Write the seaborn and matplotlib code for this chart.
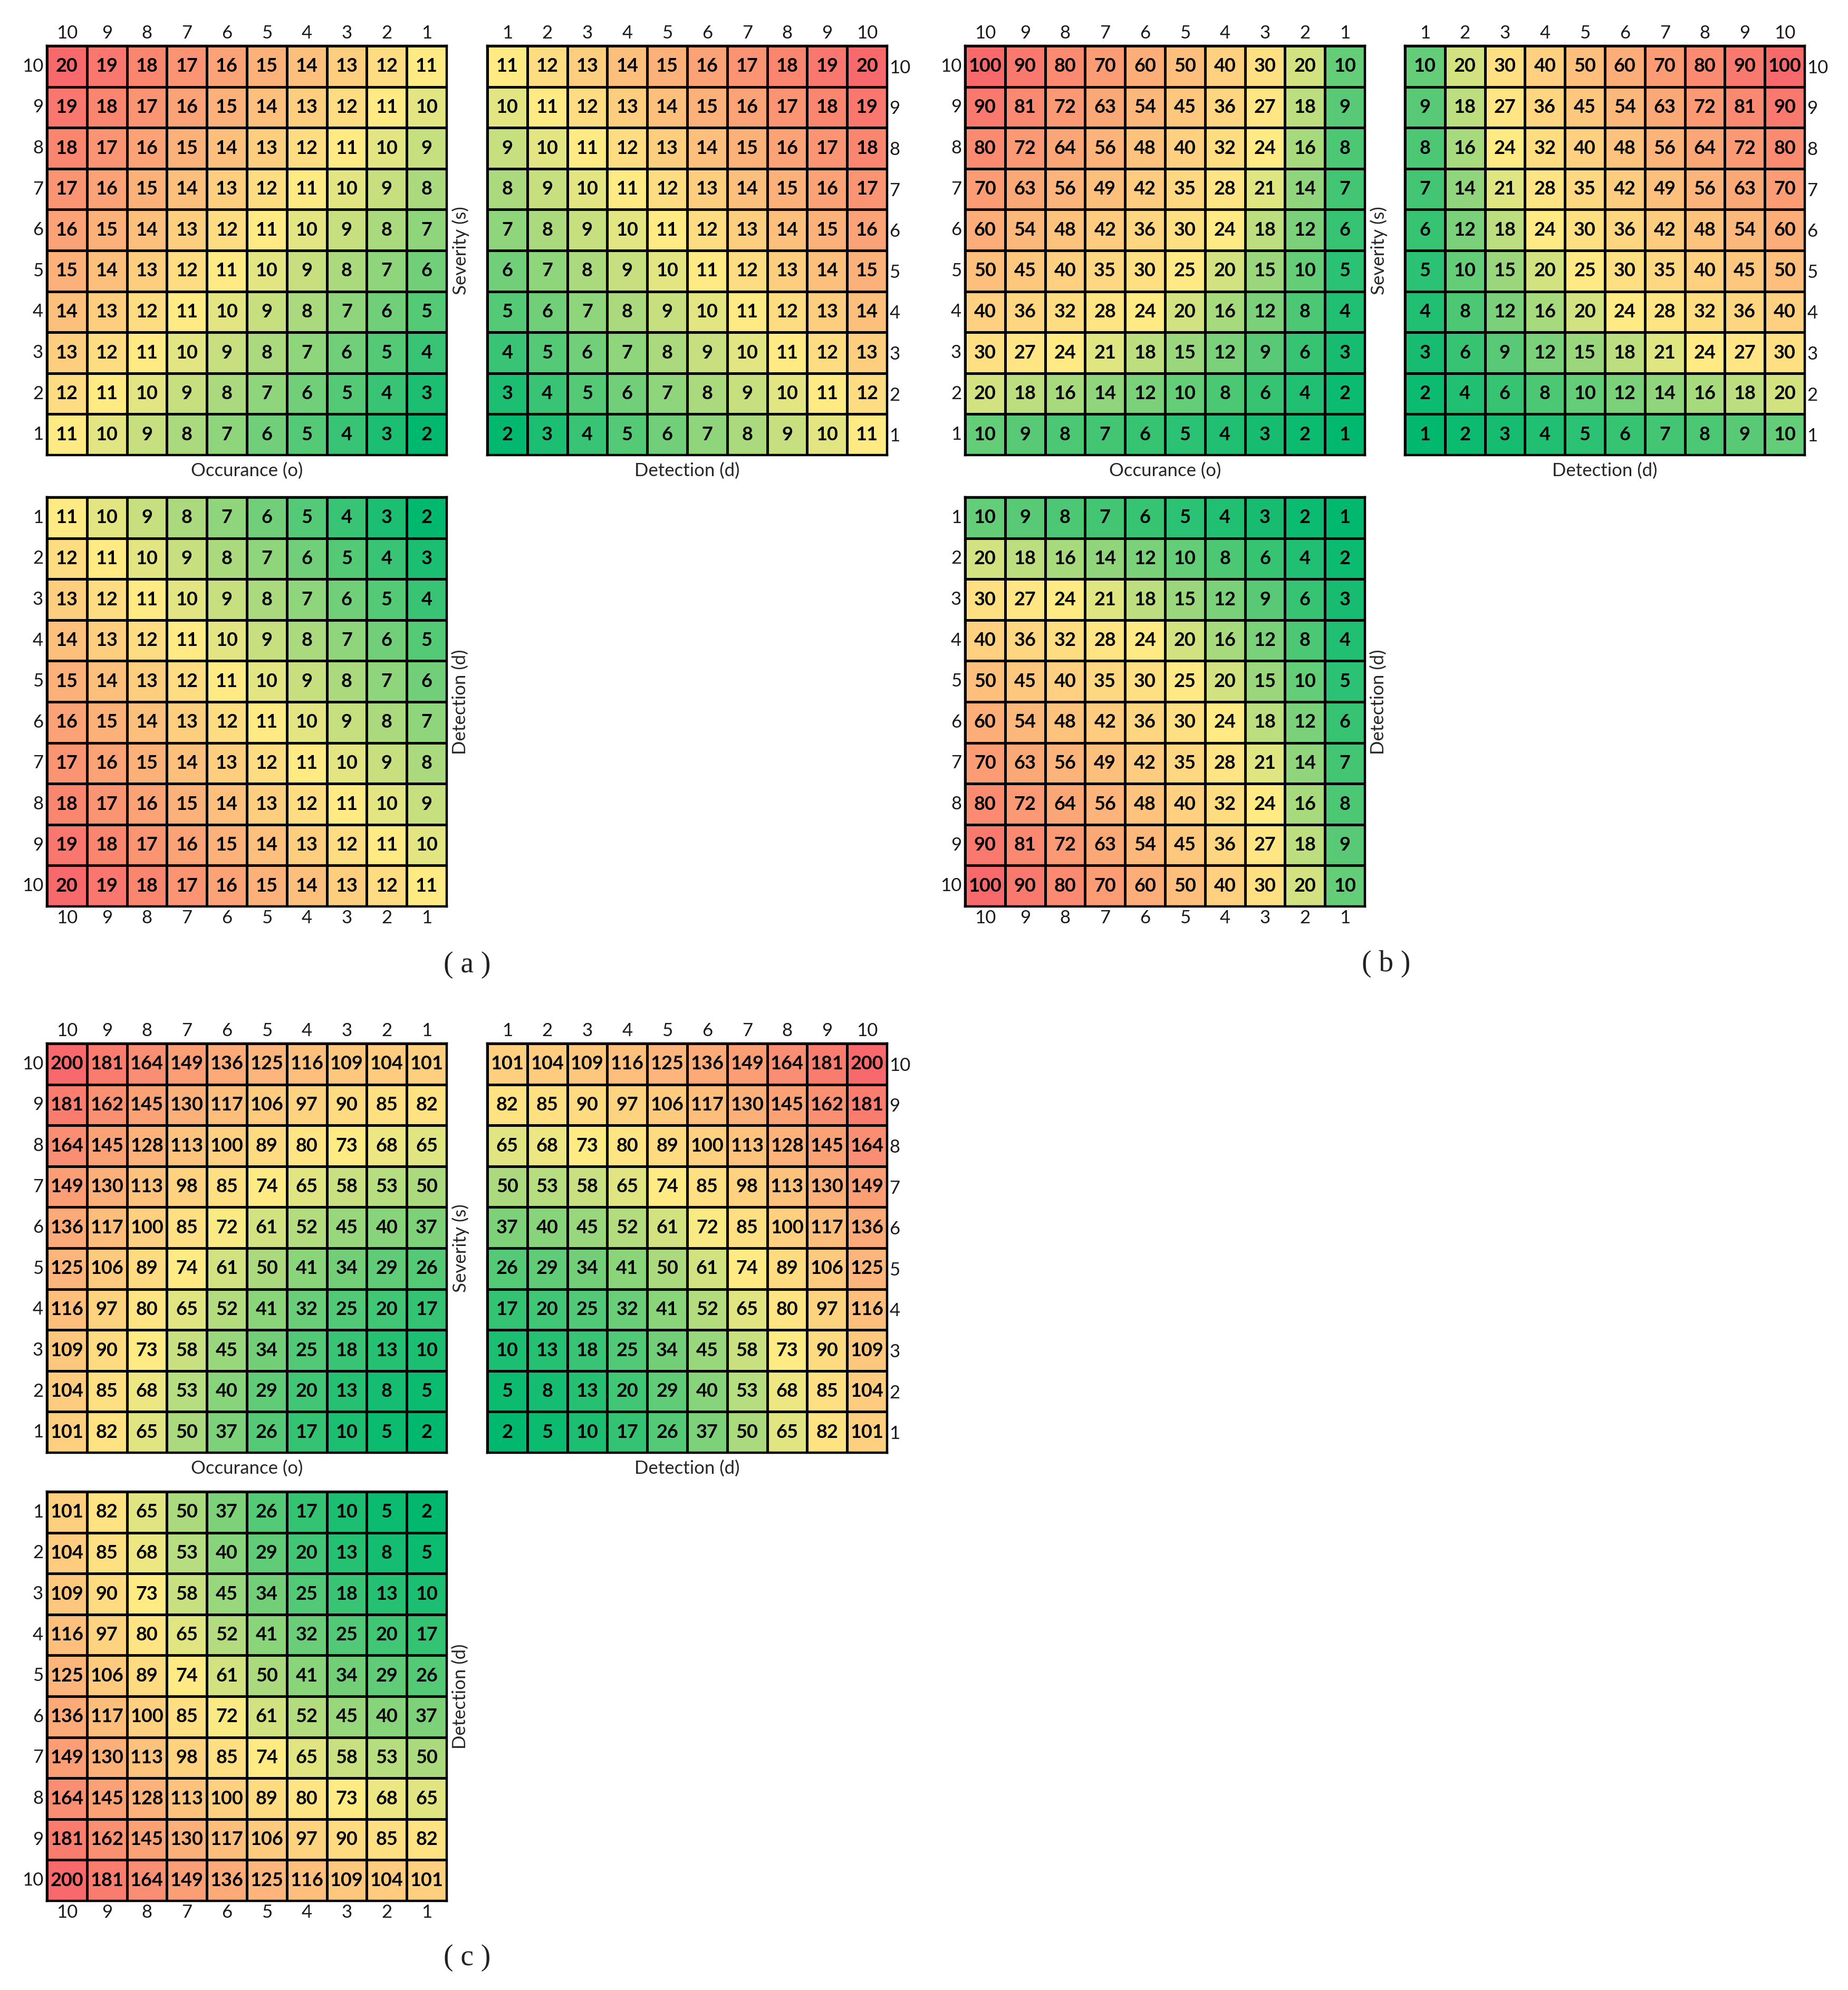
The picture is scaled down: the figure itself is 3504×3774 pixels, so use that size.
import numpy as np
import pandas as pd
import matplotlib
matplotlib.use('Agg')  # no display
import matplotlib.pyplot as plt
import seaborn as sns
from matplotlib.colors import LinearSegmentedColormap, TwoSlopeNorm

# rank scale used on every axis
ranks = [1, 2, 3, 4, 5, 6, 7, 8, 9, 10]

# (a) additive score, row = first rank (1..10), column = second rank (1..10)
sum_table = [
    [2, 3, 4, 5, 6, 7, 8, 9, 10, 11],
    [3, 4, 5, 6, 7, 8, 9, 10, 11, 12],
    [4, 5, 6, 7, 8, 9, 10, 11, 12, 13],
    [5, 6, 7, 8, 9, 10, 11, 12, 13, 14],
    [6, 7, 8, 9, 10, 11, 12, 13, 14, 15],
    [7, 8, 9, 10, 11, 12, 13, 14, 15, 16],
    [8, 9, 10, 11, 12, 13, 14, 15, 16, 17],
    [9, 10, 11, 12, 13, 14, 15, 16, 17, 18],
    [10, 11, 12, 13, 14, 15, 16, 17, 18, 19],
    [11, 12, 13, 14, 15, 16, 17, 18, 19, 20],
]

# (b) multiplicative score
product_table = [
    [1, 2, 3, 4, 5, 6, 7, 8, 9, 10],
    [2, 4, 6, 8, 10, 12, 14, 16, 18, 20],
    [3, 6, 9, 12, 15, 18, 21, 24, 27, 30],
    [4, 8, 12, 16, 20, 24, 28, 32, 36, 40],
    [5, 10, 15, 20, 25, 30, 35, 40, 45, 50],
    [6, 12, 18, 24, 30, 36, 42, 48, 54, 60],
    [7, 14, 21, 28, 35, 42, 49, 56, 63, 70],
    [8, 16, 24, 32, 40, 48, 56, 64, 72, 80],
    [9, 18, 27, 36, 45, 54, 63, 72, 81, 90],
    [10, 20, 30, 40, 50, 60, 70, 80, 90, 100],
]

# (c) sum of squares score
square_table = [
    [2, 5, 10, 17, 26, 37, 50, 65, 82, 101],
    [5, 8, 13, 20, 29, 40, 53, 68, 85, 104],
    [10, 13, 18, 25, 34, 45, 58, 73, 90, 109],
    [17, 20, 25, 32, 41, 52, 65, 80, 97, 116],
    [26, 29, 34, 41, 50, 61, 74, 89, 106, 125],
    [37, 40, 45, 52, 61, 72, 85, 100, 117, 136],
    [50, 53, 58, 65, 74, 85, 98, 113, 130, 149],
    [65, 68, 73, 80, 89, 100, 113, 128, 145, 164],
    [82, 85, 90, 97, 106, 117, 130, 145, 162, 181],
    [101, 104, 109, 116, 125, 136, 149, 164, 181, 200],
]

W, H = 3504, 3774
sns.set_theme(style='white')
plt.rcParams['font.family'] = ['Lato', 'DejaVu Sans']

fig = plt.figure(figsize=(W / 100, H / 100), dpi=100)

cmap = LinearSegmentedColormap.from_list('rag', ['#00B96F', '#FFEB84', '#F8696B'])

AX_W, AX_H = 758, 776
TICK_COLOR = '#1a1a1a'
TICK_SIZE = 25
LABEL_SIZE = 25


def add_ax(x, y):
    return fig.add_axes([x / W, 1 - (y + AX_H) / H, AX_W / W, AX_H / H])


def heat(ax, df, norm):
    sns.heatmap(df, ax=ax, cmap=cmap, norm=norm, annot=True, fmt='d', cbar=False,
                linewidths=2.4, linecolor='black',
                annot_kws={'fontsize': 26, 'fontweight': 'bold', 'color': 'black'})
    for sp in ax.spines.values():
        sp.set_visible(True)
        sp.set_linewidth(3.2)
        sp.set_color('black')
    ax.tick_params(length=0, labelsize=TICK_SIZE, labelcolor=TICK_COLOR)
    ax.tick_params(axis='y', labelrotation=0)
    ax.set_xlabel('')
    ax.set_ylabel('')


def draw_panel(table, x0, y0, dx, dy, caption, cap_xy):
    df = pd.DataFrame(table, index=ranks, columns=ranks)
    norm = TwoSlopeNorm(vmin=df.values.min(), vcenter=np.median(df.values),
                        vmax=df.values.max())
    desc = ranks[::-1]

    # severity vs occurance
    ax = add_ax(x0, y0)
    heat(ax, df.loc[desc, desc], norm)
    ax.xaxis.tick_top()
    ax.tick_params(axis='x', pad=6)
    ax.tick_params(axis='y', pad=5)
    ax.set_xlabel('Occurance (o)', fontsize=LABEL_SIZE, labelpad=10)
    ax.yaxis.set_label_position('right')
    ax.set_ylabel('Severity (s)', fontsize=LABEL_SIZE, labelpad=7)

    # severity vs detection
    ax = add_ax(x0 + dx, y0)
    heat(ax, df.loc[desc, ranks], norm)
    ax.xaxis.tick_top()
    ax.yaxis.tick_right()
    ax.tick_params(axis='x', pad=6)
    ax.tick_params(axis='y', pad=3)
    ax.xaxis.set_label_position('bottom')
    ax.set_xlabel('Detection (d)', fontsize=LABEL_SIZE, labelpad=10)

    # detection vs occurance
    ax = add_ax(x0, y0 + dy)
    heat(ax, df.loc[ranks, desc], norm)
    ax.tick_params(axis='x', pad=4)
    ax.tick_params(axis='y', pad=5)
    ax.yaxis.set_label_position('right')
    ax.set_ylabel('Detection (d)', fontsize=LABEL_SIZE, labelpad=7)

    fig.text(cap_xy[0] / W, 1 - cap_xy[1] / H, caption, ha='center', va='center',
             fontsize=40, family=['Liberation Serif', 'DejaVu Serif'], color='#222222')


draw_panel(sum_table, 89, 87, 835, 856, '( a )', (886, 1830))
draw_panel(product_table, 1830, 87, 834, 856, '( b )', (2628, 1828))
draw_panel(square_table, 89, 1979, 835, 850, '( c )', (886, 3713))

fig.savefig('out.png', dpi=100, facecolor='white')
